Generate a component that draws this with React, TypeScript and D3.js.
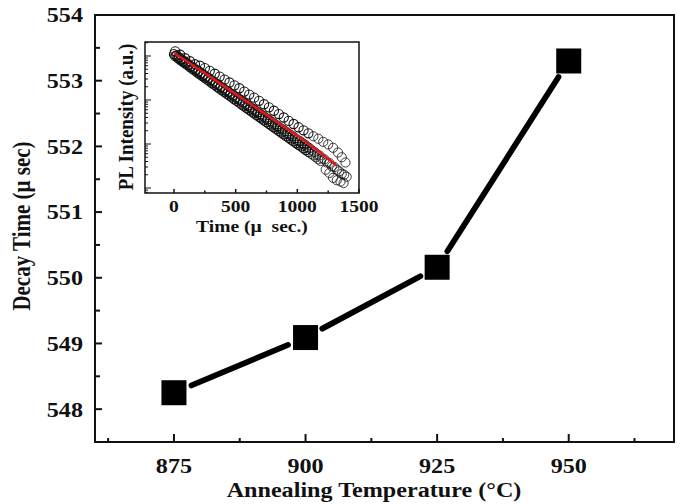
import React, { useEffect, useRef } from 'react'
import * as d3 from 'd3'

// main plot: decay time vs annealing temperature
const temperatures = [875, 900, 925, 950]
const decayTimes = [548.25, 549.09, 550.16, 553.3]
const tempTicks = [875, 900, 925, 950]
const tempMinor = [862.5, 887.5, 912.5, 937.5, 962.5]
const decayTicks = [548, 549, 550, 551, 552, 553, 554]
const decayMinor = [548.5, 549.5, 550.5, 551.5, 552.5, 553.5]

// inset: PL decay curve (log counts)
const coreTime = [
  0, 20, 40, 60, 80, 100, 120, 140, 160, 180, 200, 220, 240, 260, 280, 300, 320, 340, 360, 380,
  400, 420, 440, 460, 480, 500, 520, 540, 560, 580, 600, 620, 640, 660, 680, 700, 720, 740, 760, 780,
  800, 820, 840, 860, 880, 900, 920, 940, 960, 980, 1000, 1020, 1040, 1060, 1080, 1100, 1120, 1140,
  1160, 1180, 1200, 1220, 1240, 1260, 1280, 1300, 1320, 1340, 1360, 1380,
]
const coreCounts = [
  11000, 10300, 9400, 8300, 7700, 7000, 6400, 5800, 5400, 4850, 4500, 4050, 3750, 3400, 3150, 2850,
  2620, 2380, 2200, 1990, 1840, 1660, 1530, 1390, 1280, 1160, 1070, 975, 890, 815, 750, 680, 625, 570,
  525, 475, 440, 398, 366, 334, 306, 280, 256, 233, 214, 196, 178, 164, 150, 136, 124, 116, 104, 97,
  86, 80, 71, 66, 58, 55, 47, 45, 38, 37, 31, 30, 26, 24, 21, 20,
]
const lowerTime = [
  10, 30, 50, 70, 90, 110, 130, 150, 170, 190, 210, 230, 250, 270, 290, 310, 330, 350, 370, 390,
  410, 430, 450, 470, 490, 510, 530, 550, 570, 590, 610, 630, 650, 670, 690, 710, 730, 750, 770, 790,
  810, 830, 850, 870, 890, 910, 930, 950, 970, 990, 1010, 1030, 1050, 1070, 1090, 1110, 1130, 1150,
  1170, 1190,
]
const lowerCounts = [
  9900, 9100, 8200, 7500, 6800, 6200, 5600, 5100, 4650, 4200, 3850, 3500, 3200, 2900, 2650, 2400,
  2200, 2000, 1820, 1660, 1510, 1380, 1260, 1150, 1040, 950, 870, 790, 720, 655, 600, 545, 500, 455,
  415, 378, 345, 314, 287, 262, 240, 218, 199, 182, 166, 151, 138, 126, 115, 105, 96, 88, 80, 73, 66,
  60, 55, 50, 45, 41,
]
const upperTime = [
  10, 50, 90, 130, 170, 210, 250, 290, 330, 370, 410, 450, 490, 530, 570, 610, 650, 690, 730, 770,
  810, 850, 890, 930, 970, 1010, 1050, 1090, 1130, 1170, 1210, 1250, 1290, 1330, 1360, 1390,
]
const upperCounts = [
  12800, 10700, 8900, 7600, 6500, 6000, 5300, 4600, 3950, 3400, 2900, 2500, 2150, 1850, 1550, 1330,
  1130, 960, 800, 680, 570, 480, 400, 335, 285, 240, 205, 175, 150, 132, 112, 98, 82, 64, 50, 38,
]
const tailTime = [1230, 1260, 1290, 1320, 1350, 1375, 1400]
const tailCounts = [26, 22, 17, 15, 14, 13, 18]
const fitTime = [0, 210, 500, 800, 1016, 1315]
const fitCounts = [11700, 4810, 1370, 370, 144, 33]
const insetTicks = [0, 500, 1000, 1500]
const insetMinor = [250, 750, 1250]

const FONT = '"Liberation Serif", "Times New Roman", serif'
const STRETCH = 1.15 // the reference type is drawn wider than normal

const App = () => {
  const ref = useRef<SVGSVGElement>(null)

  useEffect(() => {
    const svg = d3.select(ref.current)
    svg.selectAll('*').remove()

    const x = d3.scaleLinear().domain([860, 970]).range([95, 674])
    const y = d3.scaleLinear().domain([547.5, 554]).range([442, 15])

    const label = (sel, size) =>
      sel
        .attr('font-family', FONT)
        .attr('font-weight', 'bold')
        .attr('font-size', size)
        .attr('fill', '#111')

    const g = svg.append('g')

    g.append('rect') // frame
      .attr('x', 95)
      .attr('y', 15)
      .attr('width', 579)
      .attr('height', 427)
      .attr('fill', 'none')
      .attr('stroke', '#111')
      .attr('stroke-width', 2)

    g.selectAll('.xt') // x ticks
      .data([...tempTicks.map(v => [v, 8]), ...tempMinor.map(v => [v, 4])])
      .join('line')
      .attr('x1', d => x(d[0]))
      .attr('x2', d => x(d[0]))
      .attr('y1', 442)
      .attr('y2', d => 442 - d[1])
      .attr('stroke', '#111')
      .attr('stroke-width', 2)

    g.selectAll('.yt') // y ticks
      .data([...decayTicks.map(v => [v, 7]), ...decayMinor.map(v => [v, 5])])
      .join('line')
      .attr('y1', d => y(d[0]))
      .attr('y2', d => y(d[0]))
      .attr('x1', 95)
      .attr('x2', d => 95 + d[1])
      .attr('stroke', '#111')
      .attr('stroke-width', 2)

    g.append('g') // x tick labels
      .selectAll('text')
      .data(tempTicks)
      .join('text')
      .attr('transform', d => `translate(${x(d)},473) scale(${STRETCH},1)`)
      .attr('text-anchor', 'middle')
      .call(label, 21)
      .text(d => d)

    g.append('g') // y tick labels
      .selectAll('text')
      .data(decayTicks)
      .join('text')
      .attr('transform', d => `translate(83,${y(d)}) scale(${STRETCH},1)`)
      .attr('dy', '0.35em')
      .attr('text-anchor', 'end')
      .call(label, 21)
      .text(d => d)

    g.append('text')
      .attr('transform', `translate(374,497) scale(${STRETCH},1)`)
      .attr('text-anchor', 'middle')
      .call(label, 21)
      .text('Annealing Temperature (°C)')

    g.append('text')
      .attr('transform', `translate(30,226) rotate(-90) scale(1,${STRETCH})`)
      .attr('text-anchor', 'middle')
      .call(label, 21)
      .text('Decay Time (µ sec)')

    // connecting segments, with a gap at each square
    const pts = temperatures.map((t, i) => [x(t), y(decayTimes[i])])
    const gap = 19
    g.append('g')
      .selectAll('line')
      .data(d3.pairs(pts))
      .join('line')
      .each(function ([a, b]) {
        const dx = b[0] - a[0]
        const dy = b[1] - a[1]
        const len = Math.hypot(dx, dy)
        d3.select(this)
          .attr('x1', a[0] + (dx / len) * gap)
          .attr('y1', a[1] + (dy / len) * gap)
          .attr('x2', b[0] - (dx / len) * gap)
          .attr('y2', b[1] - (dy / len) * gap)
      })
      .attr('stroke', '#000')
      .attr('stroke-width', 5.8)
      .attr('stroke-linecap', 'round')

    const sq = 25
    g.append('g')
      .selectAll('rect')
      .data(pts)
      .join('rect')
      .attr('x', d => d[0] - sq / 2)
      .attr('y', d => d[1] - sq / 2)
      .attr('width', sq)
      .attr('height', sq)
      .attr('fill', '#000')

    // inset
    const ix = d3.scaleLinear().domain([-235, 1500]).range([145, 359])
    const iy = d3.scaleLog().domain([20800, 7.7]).range([42, 193])
    const inset = svg.append('g')

    inset.append('rect')
      .attr('x', 145)
      .attr('y', 42)
      .attr('width', 214)
      .attr('height', 151)
      .attr('fill', '#fff')
      .attr('stroke', '#111')
      .attr('stroke-width', 1.5)

    const logTicks = iy.ticks().filter(v => v >= 8 && v <= 20000)
    inset.selectAll('.iyt')
      .data(logTicks)
      .join('line')
      .attr('x1', 145)
      .attr('x2', d => (Math.abs(Math.log10(d) - Math.round(Math.log10(d))) < 1e-6 ? 151 : 148))
      .attr('y1', d => iy(d))
      .attr('y2', d => iy(d))
      .attr('stroke', '#111')
      .attr('stroke-width', 1)

    inset.selectAll('.ixt')
      .data([...insetTicks.map(v => [v, 4]), ...insetMinor.map(v => [v, 2.5])])
      .join('line')
      .attr('x1', d => ix(d[0]))
      .attr('x2', d => ix(d[0]))
      .attr('y1', 193)
      .attr('y2', d => 193 - d[1])
      .attr('stroke', '#111')
      .attr('stroke-width', 1.5)

    const circles = [
      ...coreTime.map((t, i) => [t, coreCounts[i]]),
      ...lowerTime.map((t, i) => [t, lowerCounts[i]]),
      ...upperTime.map((t, i) => [t, upperCounts[i]]),
      ...tailTime.map((t, i) => [t, tailCounts[i]]),
    ]
    inset.append('g')
      .selectAll('circle')
      .data(circles)
      .join('circle')
      .attr('cx', d => ix(d[0]))
      .attr('cy', d => iy(d[1]))
      .attr('r', 4.6)
      .attr('fill', 'none')
      .attr('stroke', '#111')
      .attr('stroke-width', d => (d[0] < 1100 ? 1.1 : 0.8))

    inset.append('path')
      .datum(fitTime.map((t, i) => [t, fitCounts[i]]))
      .attr('d', d3.line().x(d => ix(d[0])).y(d => iy(d[1])).curve(d3.curveMonotoneX))
      .attr('fill', 'none')
      .attr('stroke', '#e3161b')
      .attr('stroke-width', 2.5)

    inset.append('g')
      .selectAll('text')
      .data(insetTicks)
      .join('text')
      .attr('transform', d => `translate(${ix(d)},212) scale(${STRETCH},1)`)
      .attr('text-anchor', 'middle')
      .call(label, 17)
      .text(d => d)

    inset.append('text')
      .attr('transform', `translate(252,232) scale(${STRETCH},1)`)
      .attr('text-anchor', 'middle')
      .attr('xml:space', 'preserve')
      .call(label, 17)
      .text('Time (µ  sec.)')

    inset.append('text')
      .attr('transform', `translate(133,117) rotate(-90) scale(1,${STRETCH})`)
      .attr('text-anchor', 'middle')
      .call(label, 19)
      .text('PL Intensity (a.u.)')
  }, [])

  return <svg width={681} height={504} ref={ref} style={{ position: 'absolute', left: 0, top: 0 }} />
}

export default App
